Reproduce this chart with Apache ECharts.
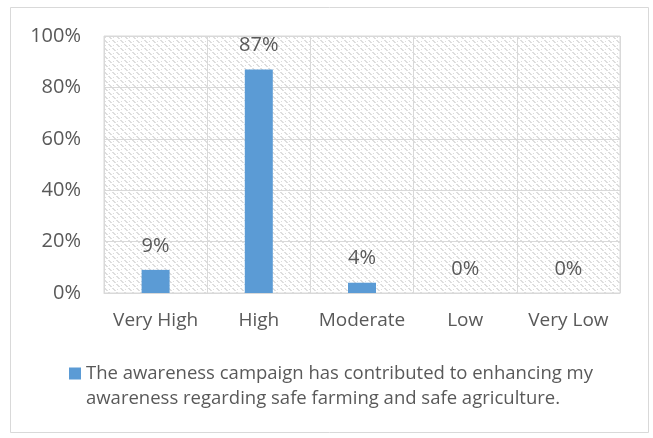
<!DOCTYPE html>
<html>
<head>
<meta charset="utf-8">
<script src="https://cdn.jsdelivr.net/npm/echarts@6/dist/echarts.min.js"></script>
<style>
  html, body { margin: 0; padding: 0; background: #fff; }
  #chart { width: 653px; height: 438px; }
</style>
</head>
<body>
<div id="chart"></div>
<script>
// Response levels and share of respondents (%)
const categories = ['Very High', 'High', 'Moderate', 'Low', 'Very Low'];
const shares = [9, 87, 4, 0, 0];
const seriesName = 'The awareness campaign has contributed to enhancing my awareness regarding safe farming and safe agriculture.';
const legendLines = ['The awareness campaign has contributed to enhancing my', 'awareness regarding safe farming and safe agriculture.'];
const yTicks = { min: 0, max: 100, step: 20 };

// Small dashed-diagonal hatch tile used as the plot-area fill
function hatchTile() {
  const c = document.createElement('canvas');
  c.width = 8; c.height = 8;
  const g = c.getContext('2d');
  g.fillStyle = '#ffffff';
  g.fillRect(0, 0, 8, 8);
  g.fillStyle = '#dedede';
  for (let y = 0; y < 8; y++) {
    for (let x = 0; x < 8; x++) {
      const d = ((x - y) % 8 + 8) % 8;
      if ((d === 0 || d === 1) && (y % 4) !== 3) g.fillRect(x, y, 1, 1);
      if (d === 4 && (y % 4) === 1) g.fillRect(x, y, 1, 1);
    }
  }
  return c;
}

const textColor = '#595959';
const lineColor = '#d9d9d9';
const font = 'Open Sans';

const chart = echarts.init(document.getElementById('chart'), null, { renderer: 'canvas' });
chart.setOption({
  backgroundColor: '#ffffff',
  animation: false,
  graphic: [{
    type: 'rect',
    shape: { x: 10.5, y: 7.5, width: 638, height: 425 },
    style: { fill: 'none', stroke: lineColor, lineWidth: 1 },
    silent: true
  }],
  grid: {
    left: 104, right: 33, top: 36, bottom: 145,
    show: true,
    backgroundColor: { image: hatchTile(), repeat: 'repeat' },
    borderColor: lineColor,
    borderWidth: 1
  },
  legend: {
    left: 69, top: 336, padding: 0,
    itemWidth: 12, itemHeight: 12, itemGap: 5,
    icon: 'rect',
    data: [seriesName],
    // leading blank line keeps the swatch level with the first text line
    formatter: () => '\n' + legendLines.join('\n'),
    textStyle: {
      color: textColor, fontFamily: font, fontSize: 18.5, lineHeight: 25
    }
  },
  xAxis: {
    type: 'category',
    data: categories,
    boundaryGap: true,
    axisLine: { show: true, lineStyle: { color: lineColor } },
    axisTick: { show: false },
    axisLabel: { interval: 0, color: textColor, fontFamily: font, fontSize: 19, margin: 18 },
    splitLine: { show: true, interval: 0, lineStyle: { color: lineColor, width: 1 } }
  },
  yAxis: {
    type: 'value',
    min: yTicks.min, max: yTicks.max, interval: yTicks.step,
    axisLine: { show: false },
    axisTick: { show: false },
    axisLabel: { color: textColor, fontFamily: font, fontSize: 20, margin: 23, formatter: '{value}%' },
    splitLine: { show: true, lineStyle: { color: lineColor, width: 1 } }
  },
  series: [{
    name: seriesName,
    type: 'bar',
    data: shares,
    barWidth: 28,
    itemStyle: { color: '#5b9bd5' },
    label: {
      show: true, position: 'top', distance: 14,
      color: textColor, fontFamily: font, fontSize: 20,
      formatter: p => p.value + '%'
    }
  }]
});
</script>
</body>
</html>
